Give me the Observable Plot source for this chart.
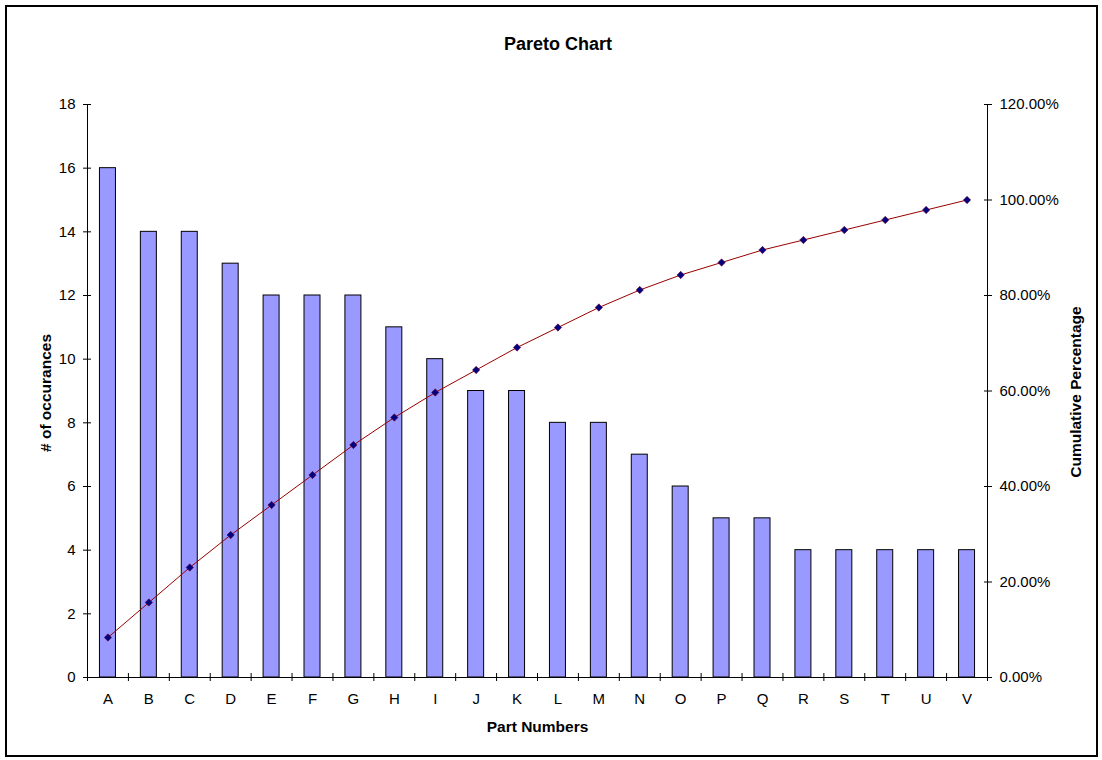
<!DOCTYPE html>
<html>
<head>
<meta charset="utf-8">
<script src="https://cdn.jsdelivr.net/npm/d3@7"></script>
<script src="https://cdn.jsdelivr.net/npm/@observablehq/plot@0.6"></script>
<style>
  body { margin: 0; background: #fff; font-family: "Liberation Sans", Arial, sans-serif; }
  #wrap { position: relative; width: 1102px; height: 760px; overflow: hidden; }
  #border { position: absolute; left: 5px; top: 5px; width: 1093px; height: 752px;
            border: 2px solid #000; box-sizing: border-box; pointer-events: none; }
  #title { height: 64px; box-sizing: border-box; padding-top: 35px; padding-left: 14px;
           text-align: center; font-weight: bold; font-size: 18px; line-height: 18px; color: #000; }
  #chart svg { display: block; }
</style>
</head>
<body>
<div id="wrap">
  <div id="title">Pareto Chart</div>
  <div id="chart"></div>
  <div id="border"></div>
</div>
<script>
// Part numbers, sorted by number of occurrences
const parts = ["A","B","C","D","E","F","G","H","I","J","K","L","M","N","O","P","Q","R","S","T","U","V"];
const occurrences = [16,14,14,13,12,12,12,11,10,9,9,8,8,7,6,5,5,4,4,4,4,4];

// Axis ticks: counts on the left, cumulative percentage on the right
const countTicks = [0,2,4,6,8,10,12,14,16,18];
const percentTicks = [0,20,40,60,80,100,120];
const countMax = 18;
const percentMax = 120;

const total = d3.sum(occurrences);
const running = d3.cumsum(occurrences);
const rows = parts.map((part, i) => ({
  part, i, count: occurrences[i], pct: running[i] / total * 100
}));

// the percentage series shares the count scale: 120% sits at the top (18)
const toCount = p => p * countMax / percentMax;

const width = 1102, height = 696;
const marginLeft = 87, marginRight = 115, marginTop = 40, marginBottom = 83;
const band = (width - marginLeft - marginRight) / parts.length;
const barWidth = 16;
const inset = (band - barWidth) / 2;

const chart = Plot.plot({
  width, height, marginLeft, marginRight, marginTop, marginBottom,
  style: { fontFamily: "'Liberation Sans', Arial, sans-serif", fontSize: "15px", color: "#000", background: "#fff" },
  x: { type: "linear", domain: [0, parts.length] },
  y: { domain: [0, countMax] },
  marks: [
    Plot.rectY(rows, {
      x1: "i", x2: d => d.i + 1, y: "count",
      insetLeft: inset, insetRight: inset,
      fill: "#9999FF", stroke: "#000", strokeWidth: 1
    }),
    Plot.ruleY([0], { stroke: "#000" }),
    Plot.ruleX([0, parts.length], { stroke: "#000" }),
    Plot.line(rows, {
      x: d => d.i + 0.5, y: d => toCount(d.pct),
      stroke: "#990000", strokeWidth: 1
    }),
    Plot.dot(rows, {
      x: d => d.i + 0.5, y: d => toCount(d.pct),
      symbol: "diamond2", r: 3.3, fill: "#000080", stroke: "#660033", strokeWidth: 0.6
    }),
    Plot.axisY({
      anchor: "left", ticks: countTicks, tickSize: 8, dx: 4, tickPadding: 8,
      tickFormat: d => String(d), label: null
    }),
    Plot.axisY({
      anchor: "right", ticks: percentTicks.map(toCount), tickSize: 8, dx: -4, tickPadding: 8,
      tickFormat: d => (d * percentMax / countMax).toFixed(2) + "%", label: null
    }),
    Plot.axisX({
      anchor: "bottom", ticks: d3.range(parts.length + 1), tickSize: 8, dy: -4,
      tickFormat: () => "", label: null
    }),
    Plot.axisX({
      anchor: "bottom", ticks: rows.map(d => d.i + 0.5), tickSize: 0, tickPadding: 16,
      tickFormat: v => parts[Math.floor(v)], label: null
    }),
    Plot.text(["# of occurances"], {
      text: d => d, frameAnchor: "left", textAnchor: "middle", lineAnchor: "middle",
      rotate: -90, dx: -41.5, dy: 2, fontWeight: "bold", fontSize: 15.5
    }),
    Plot.text(["Cumulative Percentage"], {
      text: d => d, frameAnchor: "right", textAnchor: "middle", lineAnchor: "middle",
      rotate: -90, dx: 89, dy: 1, fontWeight: "bold", fontSize: 15.5
    }),
    Plot.text(["Part Numbers"], {
      text: d => d, frameAnchor: "bottom", lineAnchor: "middle", dy: 49.5,
      fontWeight: "bold", fontSize: 15.5
    })
  ]
});

document.getElementById("chart").appendChild(chart);
</script>
</body>
</html>
